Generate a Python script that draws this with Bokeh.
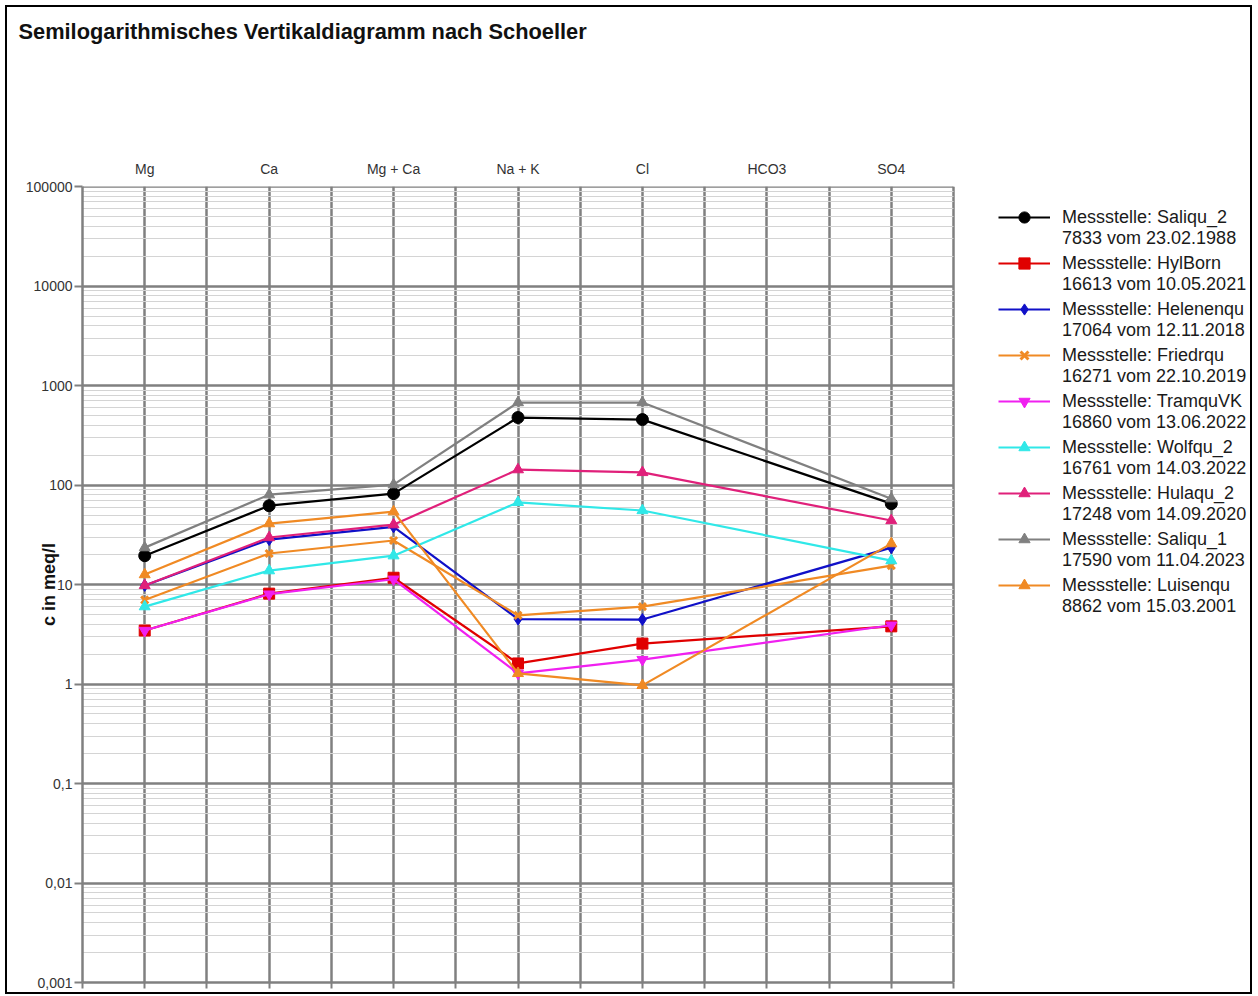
from bokeh.plotting import figure
from bokeh.models import Range1d, FixedTicker, LinearAxis, Legend, LegendItem, Title
from bokeh.embed import file_html
from bokeh.resources import INLINE

# ---------------- data ----------------
categories = ["Mg", "Ca", "Mg + Ca", "Na + K", "Cl", "HCO3", "SO4"]
cat_pos = [1, 3, 5, 7, 9, 11, 13]

stations = ["Saliqu_2", "HylBorn", "Helenenqu", "Friedrqu", "TramquVK",
            "Wolfqu_2", "Hulaqu_2", "Saliqu_1", "Luisenqu"]
samples = ["7833 vom 23.02.1988", "16613 vom 10.05.2021", "17064 vom 12.11.2018",
           "16271 vom 22.10.2019", "16860 vom 13.06.2022", "16761 vom 14.03.2022",
           "17248 vom 14.09.2020", "17590 vom 11.04.2023", "8862 vom 15.03.2001"]

# values in meq/l for Mg, Ca, Mg+Ca, Na+K, Cl, HCO3 (none), SO4
saliqu_2  = [19.5, 62.0, 82.0, 477.0, 455.0, None, 65.0]
hylborn   = [3.45, 8.1, 11.7, 1.61, 2.55, None, 3.8]
helenenqu = [9.8, 28.3, 38.0, 4.5, 4.45, None, 23.5]
friedrqu  = [7.0, 20.5, 27.7, 4.9, 6.0, None, 15.5]
tramquvk  = [3.45, 8.0, 11.3, 1.28, 1.76, None, 3.9]
wolfqu_2  = [6.0, 13.8, 19.5, 67.0, 55.5, None, 17.4]
hulaqu_2  = [9.8, 29.7, 40.0, 143.0, 134.0, None, 44.0]
saliqu_1  = [23.5, 80.0, 101.0, 675.0, 675.0, None, 73.0]
luisenqu  = [12.6, 41.0, 54.0, 1.28, 0.97, None, 25.8]

series = [saliqu_2, hylborn, helenenqu, friedrqu, tramquvk, wolfqu_2, hulaqu_2, saliqu_1, luisenqu]
colors = ["#000000", "#e00000", "#1010c8", "#f08a24", "#f020f0", "#30e8e8", "#e0207a", "#808080", "#f08a24"]
markers = ["circle", "square", "diamond", "x", "inverted_triangle", "triangle", "triangle", "triangle", "triangle"]
sizes = [12, 11, 12, 10, 11, 11, 11, 11, 11]

decades = [0.001, 0.01, 0.1, 1, 10, 100, 1000, 10000, 100000]
decade_labels = ["0,001", "0,01", "0,1", "1", "10", "100", "1000", "10000", "100000"]

# ---------------- figure ----------------
W, H = 1247, 989
FL, FT, FR, FB = 75, 179, 946, 975      # diagram box (canvas px)
X_MAX = 14                               # diagram spans x = 0 .. 14
x_end = X_MAX * (W - FL) / (FR - FL)     # frame extends right to hold the legend

p = figure(width=W, height=H, x_range=Range1d(0, x_end), y_range=Range1d(0.001, 100200),
           y_axis_type="log", output_backend="svg", toolbar_location=None,
           min_border_left=FL, min_border_top=FT, min_border_right=0,
           min_border_bottom=H - FB, background_fill_color="white",
           border_fill_color="white", title=None)
p.styles = {"border": "2px solid black", "margin": "5px 0px 0px 5px"}
p.outline_line_color = None

grid_gray = "#808080"
minor = []
for d in decades[:-1]:
    for k in range(2, 10):
        minor.append(d * k)
yticker = FixedTicker(ticks=decades, minor_ticks=minor)
xticker = FixedTicker(ticks=list(range(X_MAX + 1)))

p.xgrid.ticker = xticker
p.xgrid.grid_line_color = grid_gray
p.xgrid.grid_line_width = 2.5

yg = p.ygrid[0]
yg.ticker = yticker
yg.grid_line_color = grid_gray
yg.grid_line_width = 2.5
yg.minor_grid_line_color = "#d4d4d4"
yg.minor_grid_line_width = 1
try:
    yg.cross_bounds = (0, X_MAX)
    use_segments = False
except Exception:
    use_segments = True

if use_segments:
    yg.visible = False
    p.multi_line(xs=[[0, X_MAX]] * len(minor), ys=[[v, v] for v in minor],
                 line_color="#d4d4d4", line_width=1, level="underlay")
    p.multi_line(xs=[[0, X_MAX]] * len(decades), ys=[[v, v] for v in decades],
                 line_color=grid_gray, line_width=2.5, level="underlay")

# bottom axis: tick marks only
xa = p.xaxis[0]
xa.ticker = xticker
xa.bounds = (0, X_MAX)
xa.major_label_overrides = {i: "" for i in range(X_MAX + 1)}
xa.major_label_text_font_size = "1px"
xa.major_label_standoff = 0
xa.major_tick_out = 6
xa.major_tick_in = 0
xa.major_tick_line_color = grid_gray
xa.major_tick_line_width = 2
xa.minor_tick_line_color = None
xa.axis_line_color = grid_gray
xa.axis_line_width = 2.5

# top axis: category names
ta = LinearAxis(ticker=FixedTicker(ticks=cat_pos),
                major_label_overrides={pos: c for pos, c in zip(cat_pos, categories)})
ta.major_tick_line_color = None
ta.minor_tick_line_color = None
ta.axis_line_color = None
ta.major_label_text_font = "Liberation Sans"
ta.major_label_text_font_size = "14px"
ta.major_label_text_color = "#333333"
ta.major_label_standoff = 4
p.add_layout(ta, "above")

# spacer between category labels and title, then the title itself (outermost)
spacer = Title(text=" ", text_font_size="2px", standoff=97)
p.add_layout(spacer, "above")
main_title = Title(text="Semilogarithmisches Vertikaldiagramm nach Schoeller",
                   text_font="Liberation Sans", text_font_size="21.8px",
                   text_font_style="bold", text_color="#111111",
                   align="left", offset=-64, vertical_align="top", standoff=22)
p.add_layout(main_title, "above")

# left axis
ya = p.yaxis[0]
ya.ticker = yticker
ya.major_label_overrides = {d: l for d, l in zip(decades, decade_labels)}
ya.major_tick_out = 8
ya.major_tick_in = 0
ya.major_tick_line_color = grid_gray
ya.major_tick_line_width = 2
ya.minor_tick_line_color = None
ya.axis_line_color = grid_gray
ya.axis_line_width = 2.5
ya.major_label_text_font = "Liberation Sans"
ya.major_label_text_font_size = "14px"
ya.major_label_text_color = "#333333"
ya.major_label_standoff = 2
ya.axis_label = "c in meq/l"
ya.axis_label_text_font = "Liberation Sans"
ya.axis_label_text_font_size = "18px"
ya.axis_label_text_font_style = "bold"
ya.axis_label_text_color = "#111111"
ya.axis_label_standoff = -36

# ---------------- series ----------------
items_top = []
items_bottom = []
for st, smp, vals, col, mk, sz in zip(stations, samples, series, colors, markers, sizes):
    xs = [x for x, v in zip(cat_pos, vals) if v is not None]
    ys = [v for v in vals if v is not None]
    lr = p.line(xs, ys, line_color=col, line_width=2.2)
    if mk == "x":
        sr = p.scatter(xs, ys, marker=mk, size=sz, line_color=col, line_width=3)
    else:
        sr = p.scatter(xs, ys, marker=mk, size=sz, fill_color=col, line_color=col)
    items_top.append(LegendItem(label="Messstelle: " + st, renderers=[lr, sr]))
    items_bottom.append(LegendItem(label=smp, renderers=[]))

legend_style = dict(margin=0, padding=0, glyph_width=52, glyph_height=28,
                    label_standoff=12, spacing=18,
                    label_text_font="Liberation Sans", label_text_font_size="18px",
                    label_text_color="#1a1a1a",
                    border_line_color=None, background_fill_alpha=0)
legend1 = Legend(items=items_top, location=(916, 383), **legend_style)
legend2 = Legend(items=items_bottom, location=(916, 362), **legend_style)
p.add_layout(legend1, "center")
p.add_layout(legend2, "center")

open("out.html", "w").write(file_html(p, INLINE))
